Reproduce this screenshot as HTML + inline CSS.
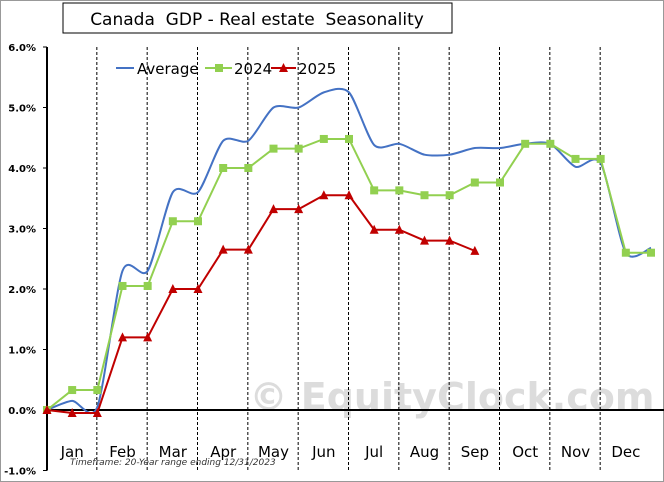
<!DOCTYPE html>
<html><head><meta charset="utf-8"><style>
body{margin:0;background:#fff;}
svg{display:block;font-family:"DejaVu Sans","Liberation Sans",sans-serif;}
</style></head><body>
<svg id="c" width="664" height="482" viewBox="0 0 664 482">
<rect x="0.5" y="0.5" width="663" height="481" fill="#fff" stroke="#999"/>
<text x="452" y="410" font-size="38" font-weight="bold" fill="#dcdcdc" text-anchor="middle">© EquityClock.com</text>
<g id="grid"></g>
<g id="axes"></g>
<g id="series"></g>
<rect x="63" y="3" width="389" height="30" fill="#fff" stroke="#000"/>
<text x="257" y="25" font-size="17" text-anchor="middle" xml:space="preserve">Canada  GDP - Real estate  Seasonality</text>
<g>
<line x1="116" y1="68" x2="134" y2="68" stroke="#4472C4" stroke-width="2"/>
<text x="137" y="74" font-size="15">Average</text>
<line x1="205" y1="68" x2="232" y2="68" stroke="#92D050" stroke-width="2"/>
<rect x="215" y="64" width="8" height="8" fill="#92D050"/>
<text x="234" y="74" font-size="15">2024</text>
<line x1="271" y1="68" x2="296" y2="68" stroke="#C00000" stroke-width="2"/>
<path d="M283.5 63 L288 72 L279 72 Z" fill="#C00000"/>
<text x="298" y="74" font-size="15">2025</text>
</g>
<text x="70" y="465" font-size="9" font-style="italic" fill="#333">Timeframe: 20-Year range ending 12/31/2023</text>
</svg>
<script>
const months=["Jan","Feb","Mar","Apr","May","Jun","Jul","Aug","Sep","Oct","Nov","Dec"];
const yTicks=[-1,0,1,2,3,4,5,6];
const avg=[0,0.15,0.05,2.3,2.3,3.6,3.6,4.45,4.45,5.0,5.0,5.25,5.25,4.38,4.4,4.22,4.22,4.33,4.33,4.4,4.4,4.02,4.08,2.6,2.68];
const s2024=[0,0.33,0.33,2.05,2.05,3.12,3.12,4.0,4.0,4.32,4.32,4.48,4.48,3.63,3.63,3.55,3.55,3.76,3.76,4.4,4.4,4.15,4.15,2.6,2.6];
const s2025=[0,-0.05,-0.05,1.2,1.2,2.0,2.0,2.65,2.65,3.32,3.32,3.55,3.55,2.98,2.98,2.8,2.8,2.63];
const NS="http://www.w3.org/2000/svg";
const X0=47,X1=651,Y0=410,PPU=60.5;
const x=i=>X0+i*(X1-X0)/24;
const y=v=>Y0-v*PPU;
function mk(tag,at,parent){const e=document.createElementNS(NS,tag);for(const k in at)e.setAttribute(k,at[k]);document.getElementById(parent).appendChild(e);return e;}
for(let m=0;m<12;m++){
  if(m>0){const l=mk("line",{x1:x(2*m)-0.5,x2:x(2*m)-0.5,y1:y(6),y2:y(-1),stroke:"#000","stroke-dasharray":"3,2","stroke-width":1},"grid");
  
  }
  const t=mk("text",{x:x(2*m+1),y:457,"font-size":15,"text-anchor":"middle"},"axes");
  t.textContent=months[m];
  
  
}
const ax=mk("line",{x1:X0,x2:X0,y1:y(6),y2:y(-1),stroke:"#000","stroke-width":2},"axes");


yTicks.forEach(v=>{
  const tk=mk("line",{x1:X0-4,x2:X0,y1:y(v),y2:y(v),stroke:"#000"},"axes");
  
  
  const t=mk("text",{x:X0-11,y:y(v)+4,"font-size":10,"font-weight":"bold","text-anchor":"end"},"axes");
  t.textContent=v.toFixed(1)+"%";
  
  
});
const z=mk("line",{x1:X0,x2:664,y1:y(0),y2:y(0),stroke:"#000","stroke-width":2},"axes");


function smooth(arr){const p=arr.map((v,i)=>[x(i),y(v)]);let d=`M${p[0][0]},${p[0][1]}`;
 for(let i=0;i<p.length-1;i++){const a=p[i-1]||p[i],b=p[i],c=p[i+1],e=p[i+2]||c;const t=0.13;
 d+=` C${b[0]+(c[0]-a[0])*t},${b[1]+(c[1]-a[1])*t} ${c[0]-(e[0]-b[0])*t},${c[1]-(e[1]-b[1])*t} ${c[0]},${c[1]}`;}return d;}
const pa=mk("path",{d:smooth(avg),fill:"none",stroke:"#4472C4","stroke-width":2},"series");


const p4=mk("polyline",{points:s2024.map((v,i)=>x(i)+","+y(v)).join(" "),fill:"none",stroke:"#92D050","stroke-width":2},"series");


s2024.forEach((v,i)=>{const r=mk("rect",{x:x(i)-4,y:y(v)-4,width:8,height:8,fill:"#92D050"},"series");
 
 });
const p5=mk("polyline",{points:s2025.map((v,i)=>x(i)+","+y(v)).join(" "),fill:"none",stroke:"#C00000","stroke-width":2},"series");


s2025.forEach((v,i)=>{const cx=x(i),cy=y(v);const r=mk("path",{d:`M${cx} ${cy-5} L${cx+4.5} ${cy+4} L${cx-4.5} ${cy+4} Z`,fill:"#C00000"},"series");
 
 });
</script>
</body></html>
